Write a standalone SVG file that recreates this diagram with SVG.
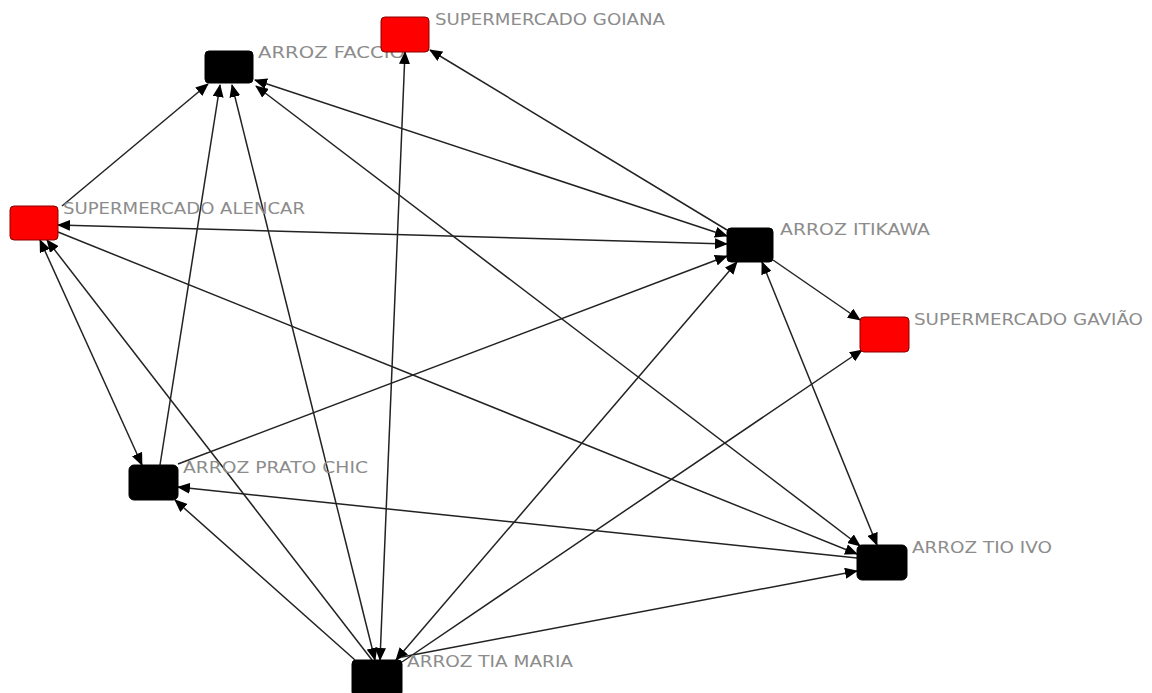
<svg xmlns="http://www.w3.org/2000/svg" width="1152" height="693" viewBox="0 0 1152 693">
<style>
.e{stroke:#222;stroke-width:1.5;fill:none}
.a{marker-end:url(#ah)}
.b{marker-start:url(#ah);marker-end:url(#ah)}
.blk{fill:#000;stroke:#000;stroke-width:1}
.red{fill:#ff0000;stroke:#8a0000;stroke-width:1}
.lbl{font-family:"DejaVu Sans","Liberation Sans",sans-serif;font-size:15px;fill:#8c8c8c}
</style>
<defs>
<marker id="ah" markerUnits="userSpaceOnUse" markerWidth="13" markerHeight="11" refX="12" refY="5.5" orient="auto-start-reverse" viewBox="0 0 13 11">
<path d="M0,0 L13,5.5 L0,11 Z" fill="#000"/>
</marker>
</defs>
<rect width="1152" height="693" fill="#fff"/>
<g id="edges">
<line class="e a" x1="62" y1="206" x2="208" y2="84"/>
<line class="e a" x1="160" y1="465" x2="220" y2="85"/>
<line class="e b" x1="375" y1="660" x2="232" y2="85"/>
<line class="e b" x1="380" y1="660" x2="405" y2="52"/>
<line class="e a" x1="727" y1="230" x2="430" y2="50"/>
<line class="e b" x1="727" y1="236" x2="255" y2="80"/>
<line class="e b" x1="727" y1="244" x2="58" y2="225"/>
<line class="e a" x1="773" y1="260" x2="860" y2="320"/>
<line class="e b" x1="762" y1="262" x2="877" y2="545"/>
<line class="e a" x1="178" y1="464" x2="727" y2="256"/>
<line class="e b" x1="396" y1="660" x2="737" y2="262"/>
<line class="e a" x1="402" y1="662" x2="862" y2="350"/>
<line class="e a" x1="402" y1="657" x2="857" y2="571"/>
<line class="e a" x1="355" y1="660" x2="175" y2="500"/>
<line class="e a" x1="857" y1="558" x2="178" y2="487"/>
<line class="e a" x1="58" y1="232" x2="857" y2="554"/>
<line class="e b" x1="256" y1="86" x2="860" y2="546"/>
<line class="e b" x1="40" y1="240" x2="142" y2="465"/>
<line class="e a" x1="372" y1="660" x2="47" y2="240"/>
</g>
<g id="n-faccio">
<rect class="blk" x="205" y="51" width="48" height="32" rx="4"/>
<text class="lbl" x="258" y="58" textLength="147" lengthAdjust="spacingAndGlyphs">ARROZ FACCIO</text>
</g>
<g id="n-goiana">
<rect class="red" x="381" y="17" width="48" height="35" rx="4"/>
<text class="lbl" x="435" y="25" textLength="230" lengthAdjust="spacingAndGlyphs">SUPERMERCADO GOIANA</text>
</g>
<g id="n-alencar">
<rect class="red" x="10" y="206" width="48" height="34" rx="4"/>
<text class="lbl" x="63" y="214" textLength="242" lengthAdjust="spacingAndGlyphs">SUPERMERCADO ALENCAR</text>
</g>
<g id="n-itikawa">
<rect class="blk" x="727" y="228" width="46" height="34" rx="4"/>
<text class="lbl" x="780" y="235" textLength="150" lengthAdjust="spacingAndGlyphs">ARROZ ITIKAWA</text>
</g>
<g id="n-gaviao">
<rect class="red" x="860" y="317" width="49" height="35" rx="4"/>
<text class="lbl" x="914" y="325" textLength="229" lengthAdjust="spacingAndGlyphs">SUPERMERCADO GAVIÃO</text>
</g>
<g id="n-pratochic">
<rect class="blk" x="129" y="465" width="49" height="35" rx="5"/>
<text class="lbl" x="183" y="473" textLength="185" lengthAdjust="spacingAndGlyphs">ARROZ PRATO CHIC</text>
</g>
<g id="n-tioivo">
<rect class="blk" x="857" y="545" width="50" height="35" rx="5"/>
<text class="lbl" x="912" y="553" textLength="140" lengthAdjust="spacingAndGlyphs">ARROZ TIO IVO</text>
</g>
<g id="n-tiamaria">
<rect class="blk" x="352" y="660" width="50" height="36" rx="4"/>
<text class="lbl" x="407" y="667" textLength="166" lengthAdjust="spacingAndGlyphs">ARROZ TIA MARIA</text>
</g>
</svg>
